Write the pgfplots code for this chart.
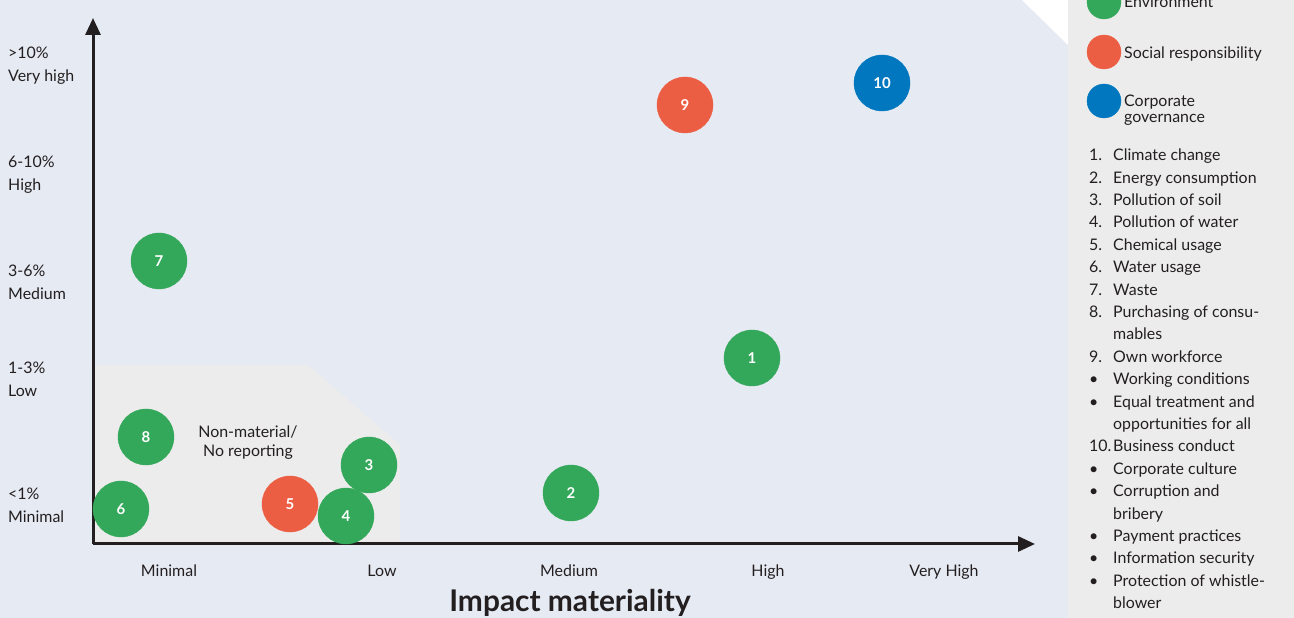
\documentclass[border=0pt]{standalone}
\usepackage{fontspec}
\setmainfont{Lato}
\usepackage{pgfplots}
\usepackage{pgfplotstable}
\pgfplotsset{compat=1.18}
\usetikzlibrary{arrows.meta}
\definecolor{bgblue}{RGB}{230,234,243}
\definecolor{panel}{RGB}{236,236,236}
\definecolor{envgreen}{RGB}{52,168,90}
\definecolor{socred}{RGB}{236,94,67}
\definecolor{govblue}{RGB}{0,119,190}
\definecolor{txt}{RGB}{35,31,32}

\pgfplotstableread{
x y label
659 186 1
478 51 2
276 79 3
253 28 4
28 35 6
66 283 7
53 107 8
}\envdata
\pgfplotstableread{
x y label
197 40 5
592 439 9
}\socdata
\pgfplotstableread{
x y label
789 461 10
}\govdata

\begin{document}
\begin{tikzpicture}[x=1bp,y=1bp]
\fill[bgblue] (0,0) rectangle (1294,618);
\fill[white] (1022,618) -- (1068,618) -- (1068,573) -- cycle;
\fill[panel] (1068,0) rectangle (1294,618);
\begin{axis}[
  at={(93bp,74bp)}, anchor=south west, scale only axis,
  width=942bp, height=526bp,
  xmin=0, xmax=942, ymin=0, ymax=526, clip=false,
  axis x line=bottom, axis y line=left, axis on top,
  axis line style={line width=3bp, color=txt, -{Triangle[length=17bp,width=15bp]}},
  major tick length=0pt,
  xtick={76,289,476,675,851},
  xticklabels={Minimal,Low,Medium,High,Very High},
  xticklabel style={anchor=base, yshift=-33bp, inner sep=0pt, text=txt, font=\fontsize{16}{18}\selectfont},
  ytick={478.5,369,261.5,164.5,38.5},
  yticklabels={{>10\%\\Very high},{6-10\%\\High},{3-6\%\\Medium},{1-3\%\\Low},{<1\%\\Minimal}},
  yticklabel style={anchor=west, align=left, inner sep=0pt, xshift=-85bp, text=txt, font=\fontsize{16}{23}\selectfont},
  every node near coord/.append style={anchor=center, text=white, font=\bfseries\fontsize{15}{15}\selectfont},
]
\addplot[fill=panel, draw=none] coordinates {(0,0) (0,179) (215,179) (307,99) (307,0)} -- cycle;
\addplot[envgreen, only marks, mark=*, mark size=28bp, mark options={draw=envgreen, fill=envgreen},
  nodes near coords, point meta=explicit symbolic] table[x=x, y=y, meta=label] {\envdata};
\addplot[socred, only marks, mark=*, mark size=28bp, mark options={draw=socred, fill=socred},
  nodes near coords, point meta=explicit symbolic] table[x=x, y=y, meta=label] {\socdata};
\addplot[govblue, only marks, mark=*, mark size=28bp, mark options={draw=govblue, fill=govblue},
  nodes near coords, point meta=explicit symbolic] table[x=x, y=y, meta=label] {\govdata};
% legend markers
\addplot[envgreen, only marks, mark=*, mark size=17bp, mark options={draw=envgreen, fill=envgreen}] coordinates {(1011,542)};
\addplot[socred, only marks, mark=*, mark size=17bp, mark options={draw=socred, fill=socred}] coordinates {(1011,492)};
\addplot[govblue, only marks, mark=*, mark size=17bp, mark options={draw=govblue, fill=govblue}] coordinates {(1011,443)};
\end{axis}
\begin{scope}[every node/.style={text=txt, inner sep=0pt, font=\fontsize{16}{19}\selectfont}]
\node[anchor=center, align=center] at (248,175) {Non-material/\\No reporting};
\node[anchor=base, font=\bfseries\fontsize{30}{32}\selectfont] at (570,6) {Impact materiality};
\node[anchor=base west] at (1124,610) {Environment};
\node[anchor=base west] at (1124,559) {Social responsibility};
\node[anchor=base west] at (1124,511) {Corporate};
\node[anchor=base west] at (1124,495) {governance};
\foreach \n/\t [count=\i from 0] in {1./Climate change, 2./Energy consumption, 3./Pollution of soil, 4./Pollution of water, 5./Chemical usage, 6./Water usage, 7./Waste, 8./Purchasing of consu-, /mables, 9./Own workforce, \textbullet/Working conditions, \textbullet/Equal treatment and, /opportunities for all, 10./Business conduct, \textbullet/Corporate culture, \textbullet/Corruption and, /bribery, \textbullet/Payment practices, \textbullet/Information security, \textbullet/Protection of whistle-, /blower}{
  \pgfmathsetmacro\yy{457.3-22.4*\i}
  \node[anchor=base west] at (1089,\yy) {\n};
  \node[anchor=base west] at (1113,\yy) {\t};
}
\end{scope}
\pgfresetboundingbox
\useasboundingbox (0,0) rectangle (1294,618);
\end{tikzpicture}
\end{document}
